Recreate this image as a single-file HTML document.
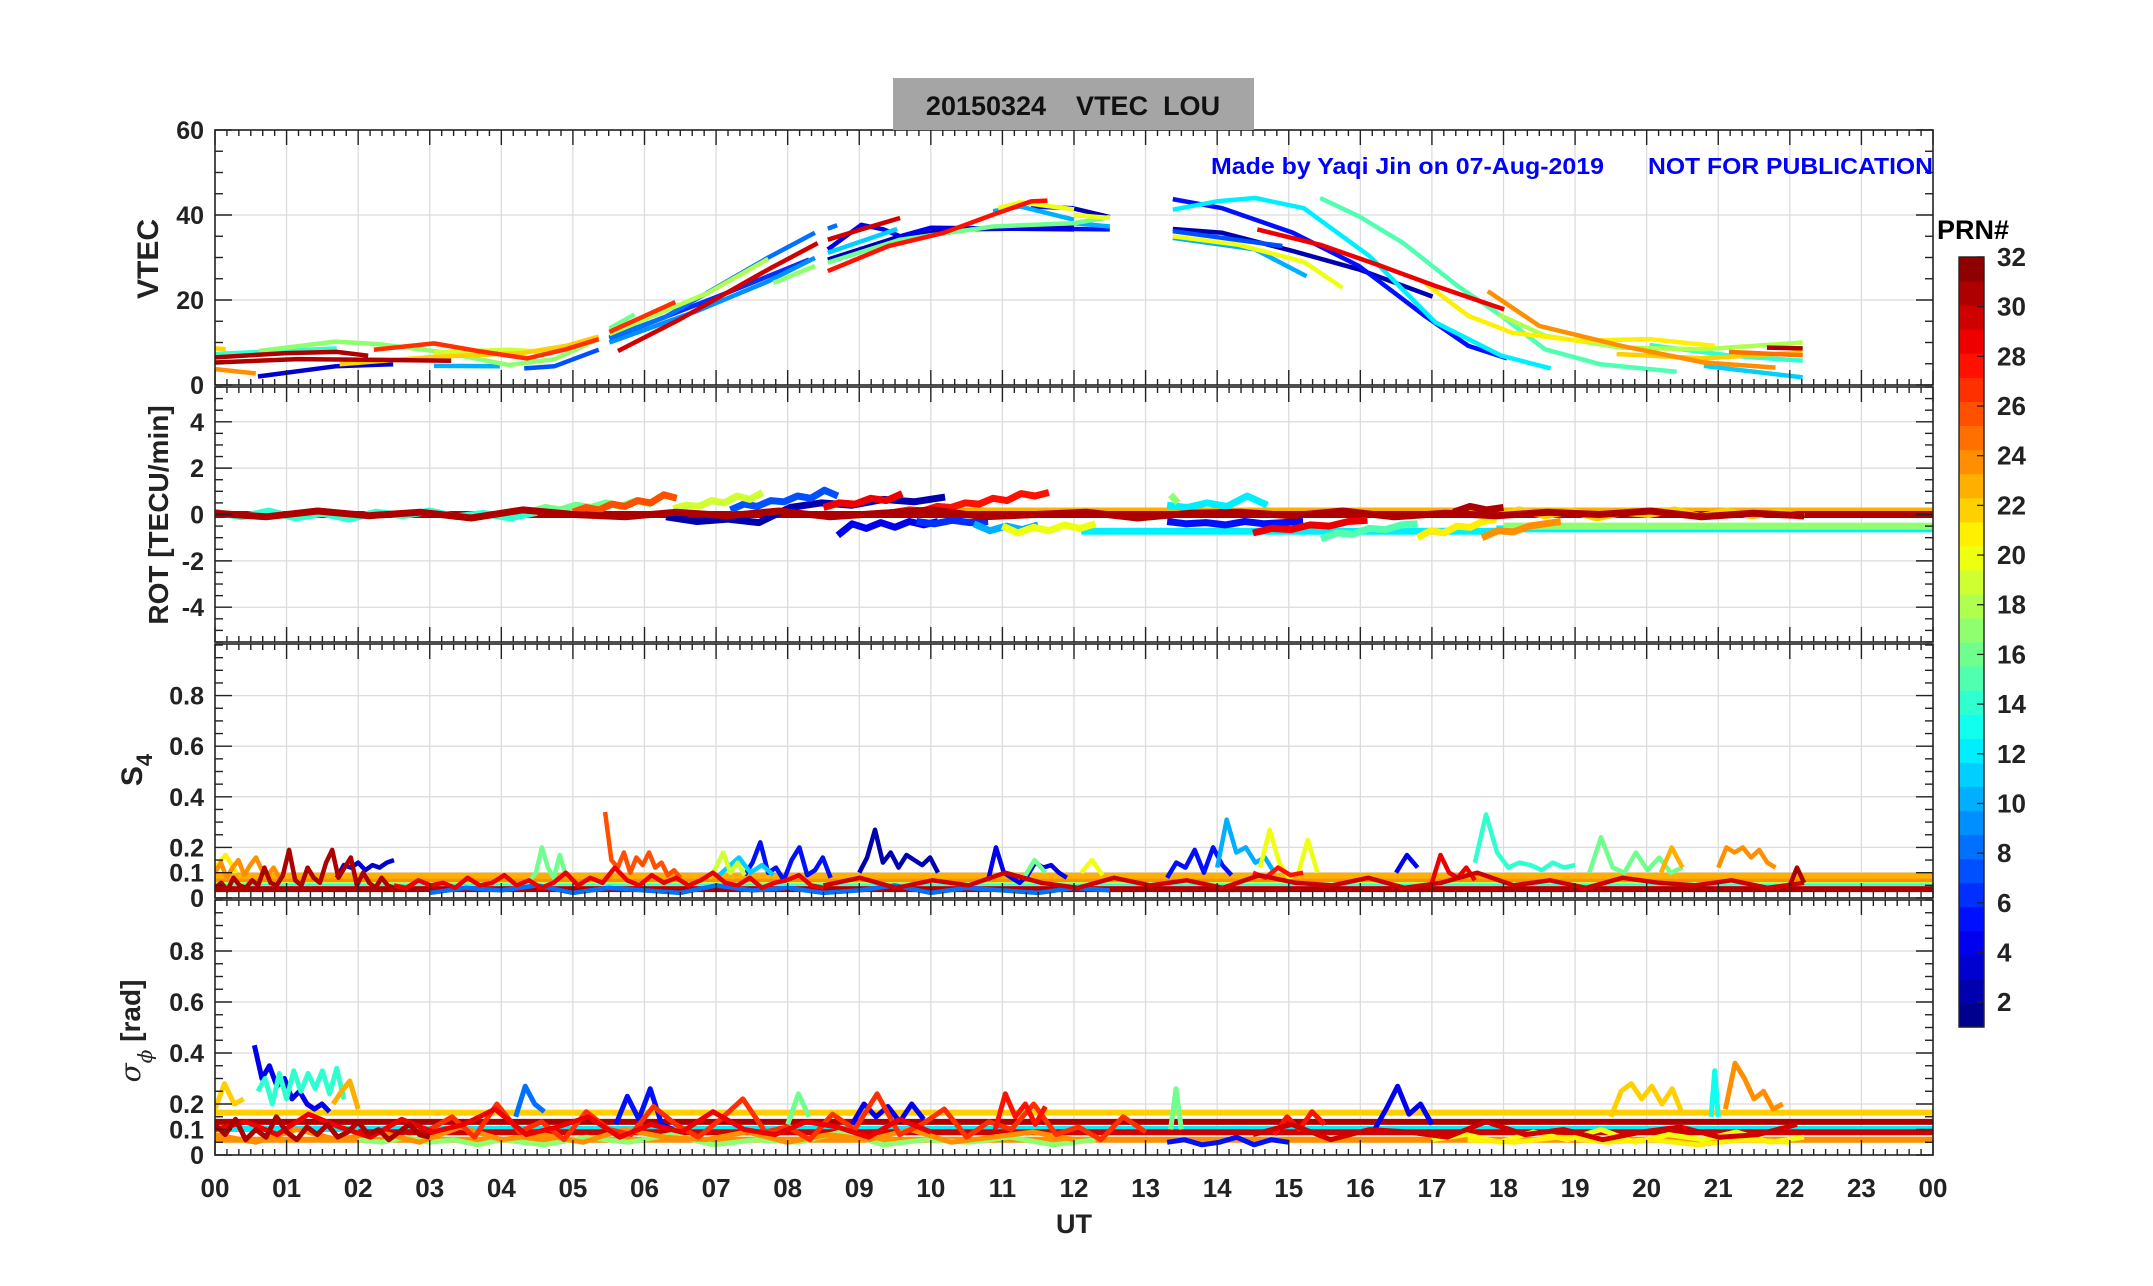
<!DOCTYPE html>
<html><head><meta charset="utf-8"><style>
html,body{margin:0;padding:0;background:#fff;}
svg{display:block;font-family:"Liberation Sans",Arial,sans-serif;}
</style></head><body>
<svg id="chart" width="2153" height="1286" viewBox="0 0 2153 1286" xmlns="http://www.w3.org/2000/svg">
<rect x="0" y="0" width="2153" height="1286" fill="#fff"/>
<g id="grids"></g>
<g id="marks"></g>
<g id="axes"></g>
<g>
<rect x="893" y="78" width="361" height="52" fill="#a5a5a5"/>
<text x="1073" y="115" text-anchor="middle" font-size="27" font-weight="bold" fill="#111" xml:space="preserve" style="white-space:pre">20150324    VTEC  LOU</text>
</g>
<text x="1211" y="174" font-size="23" font-weight="bold" fill="#0000ff" textLength="393" lengthAdjust="spacingAndGlyphs">Made by Yaqi Jin on 07-Aug-2019</text>
<text x="1648" y="174" font-size="23" font-weight="bold" fill="#0000ff" textLength="285" lengthAdjust="spacingAndGlyphs">NOT FOR PUBLICATION</text>
<text transform="translate(158,259) rotate(-90)" text-anchor="middle" font-size="30" font-weight="bold" fill="#222">VTEC</text>
<text transform="translate(168,515) rotate(-90)" text-anchor="middle" font-size="28" font-weight="bold" fill="#222">ROT [TECU/min]</text>
<text transform="translate(142,770) rotate(-90)" text-anchor="middle" font-size="30" font-weight="bold" fill="#222">S<tspan font-size="22" dy="10">4</tspan></text>
<text transform="translate(140,1031) rotate(-90)" text-anchor="middle" font-size="28" font-weight="bold" fill="#222"><tspan font-family="'DejaVu Serif',serif" font-style="italic" font-weight="normal">σ</tspan><tspan font-size="20" dy="12" font-family="'DejaVu Serif',serif" font-style="italic" font-weight="normal">ϕ</tspan><tspan dy="-12"> [rad]</tspan></text>
<text x="1074" y="1233" text-anchor="middle" font-size="27" font-weight="bold" fill="#222">UT</text>
<g id="colorbar"></g>
<text x="1973" y="239" text-anchor="middle" font-size="27" font-weight="bold" fill="#000">PRN#</text>
</svg>
<script>
// ---------- data ----------
const vtecPrn = [31,31,22,14,17,24,3,22,19,27,10,7,16,27,18,6,9,8,30,17,8,30,4,11,2,16,28,20,10,5,
  2,20,16,10,5,5,12,2,7,10,20,29,15,21,24,18,22,14,11,25,31];
const vtecT = [
 [0,1.0,1.7,2.14],[0,1.15,2.3,3.3],[0,0.15],[0,1.7],[0.61,1.68,2.3,3.2,4.1,4.75,5.36],[0,0.57],[0.6,1.68,2.49],
 [1.74,3.06,4.29,4.9,5.36],[3.06,4.13,4.6],[2.22,3.06,3.67,4.36,4.9,5.36],[3.06,3.98],[4.32,4.74,5.36],
 [5.51,5.86],[5.51,6.43],[5.51,6.89,7.73],[5.51,7.2,8.3],[5.51,6.73,7.73,8.38],[5.51,6.28,7.73,8.38],[5.63,6.5,7.73,8.42],[7.8,8.38],
 [8.56,8.69],[8.56,9.03,9.57],[8.56,9.03,9.34,9.57,10.0,12.0],[8.56,9.53],[8.56,9.57,10.33,12.0],[8.56,9.57,10.87,12.0],
 [8.56,9.41,10.18,10.87,11.4,11.63],[10.94,11.25,12.0],[10.87,11.25,12.0],[11.4,12.0],
 [12.0,12.5],[12.0,12.5],[12.0,12.5],[12.0,12.5],[12.0,12.5],
 [13.38,14.07,15.06,15.98,16.9,17.51,18.05],[13.38,13.99,14.53,15.21,16.13,17.05,17.97,18.66],[13.38,14.07,15.06,15.98,17.01],
 [13.38,14.91],[13.38,14.53,15.25],[13.38,14.3,15.21,15.75],[14.56,15.44,16.29,17.05,18.01],
 [15.44,15.98,16.6,17.36,17.97,18.58,19.35,20.42],[16.9,17.51,18.12,19.04,20.04,20.95],[17.78,18.5,19.65,20.8,21.8],
 [17.93,18.58,19.65,20.8,22.18],[19.58,20.8,22.18],[20.04,21.18,22.18],[20.8,22.18],[21.15,22.18],[21.68,22.18]];
const vtecV = [
 [6.5,7.5,7.8,6.9],[5.3,6.1,5.9,5.7],[8.6,8.4],[7.3,8.6],[8,10.2,9.6,7.7,4.7,6.1,10.8],[3.75,2.7],[2.0,4.4,4.9],
 [4.9,6.6,7.5,9.2,11.4],[7.7,8.3,7.8],[8.3,9.8,8.0,6.25,8.4,10.8],[4.5,4.4],[3.9,4.4,8.3],
 [13.3,16.6],[12.5,19.5],[12,21.7,29.7],[10.9,22,29.5],[10,17.4,24.4,29.9],[11.2,15.9,30,35.8],[8,15.5,27.2,33.4],[24,28],
 [36.8,37.6],[34.2,36.6,39.3],[31.9,37.7,36.6,35,37,36.6],[31.1,36.7],[29.5,35,36.6,37],[28.8,34.2,37.3,38.1],
 [26.8,32.7,35.8,40.1,43.2,43.4],[41.6,43,41.3],[40.9,42,38.9],[42,41.6],
 [41.5,39.5],[40,39.3],[38.1,39.5],[38.1,37.3],[36.7,36.6],
 [43.75,41.6,35.8,28,16.25,9.2,6.25],[41.25,43.2,44,41.6,30.3,14.7,6.9,3.9],[36.7,35.8,31.5,27.2,20.8],
 [36.2,32.7],[34.6,31.9,25.6],[35,33,29,22.9],[36.6,33,28,23.3,17.8],
 [44,39.7,33.4,23.3,16.25,8.4,4.9,3.1],[24,16.25,12.3,10.4,10.8,9.2],[22.1,13.9,9.2,5.3,4.1],
 [16.6,11.6,8.8,8.4,10],[7.3,6.25,7.7],[9.4,6.9,5.7],[4.5,1.8],[7.8,7],[8.8,8.6]];

const rotPrn = [2,4,5,6,7,10,12,15,16,17,19,20,21,24,26,28,29,29,31,31,14,22];
const rotT = [[6.3,10.2],[8.7,10.1],[13.3,15.2],[9.8,10.8],[7.2,8.7],[10.6,11.5],[13.3,14.7],[15.45,16.8],[4.4,6.1],[13.35,13.45],
 [6.4,7.65],[11.0,12.3],[16.8,17.9],[17.7,18.8],[5.0,6.45],[9.5,11.65],[8.5,9.6],[14.5,16.1],[0,22.2],[17.3,18.0],[0,4.5],[17.5,22.2]];
const rotV = [
 [-0.1,-0.3,-0.2,-0.35,0.3,0.5,0.4,0.65,0.55,0.75],[-0.9,-0.4,-0.6,-0.35,-0.55,-0.3,-0.45,-0.3],[-0.3,-0.4,-0.35,-0.45,-0.3,-0.4,-0.35,-0.3],
 [-0.3,-0.4,-0.25,-0.35,-0.3],[0.2,0.45,0.35,0.6,0.55,0.8,0.7,1.05,0.8],[-0.4,-0.7,-0.5,-0.65,-0.45],[0.4,0.3,0.5,0.35,0.8,0.4],
 [-1.05,-0.8,-0.85,-0.6,-0.65,-0.45,-0.4],[0.1,0.3,0.2,0.4,0.3,0.5,0.35,0.6,0.45],[0.85,0.5],
 [0.25,0.4,0.35,0.6,0.5,0.8,0.65,0.95],[-0.5,-0.8,-0.55,-0.7,-0.45,-0.6,-0.4],[-1.0,-0.7,-0.8,-0.5,-0.55,-0.3,-0.2],
 [-1.0,-0.7,-0.75,-0.5,-0.4,-0.3],[0.1,0.3,0.2,0.45,0.35,0.6,0.5,0.85,0.7],[0.1,0.2,0.15,0.35,0.3,0.5,0.45,0.7,0.6,0.9,0.8,0.95],
 [0.3,0.5,0.45,0.7,0.6,0.9],[-0.8,-0.6,-0.65,-0.45,-0.5,-0.3,-0.25],
 [0.05,-0.1,0.15,-0.05,0.1,-0.15,0.2,0.0,-0.1,0.1,-0.05,0.15,-0.1,0.05,0.2,-0.1,0.0,0.1,-0.15,0.05,0.1,-0.05,0.15,-0.1,0.05,-0.05,0.1,0.0,0.15,-0.1,0.05,-0.05],
 [0.1,0.35,0.2,0.3],
 [0.1,-0.1,0.15,-0.15,0.05,-0.2,0.1,-0.05,0.15,-0.1,0.05,-0.15,0.1],
 [0.1,-0.1,0.2,-0.05,0.15,-0.15,0.1,0.0,0.2,-0.1,0.15,-0.05,0.1,-0.1]];
const rotFlatPrn = [12,12,17,23,31];
const rotFlatT = [[12.1,17.9],[17.9,24],[18.0,24],[9.9,24],[0,24]];
const rotFlatV = [-0.72,-0.62,-0.5,0.15,0.0];

const s4Prn = [2,3,4,4,5,5,10,11,14,16,16,16,19,20,20,21,23,24,24,26,28,29,29,31,31,8,30];
const s4T = [[9.0,10.1],[1.7,2.5],[10.8,11.9],[16.5,16.8],[7.4,8.6],[13.3,14.2],[14.0,14.8],[7.0,7.8],[17.6,19.0],[4.4,4.9],[11.3,11.6],[19.2,20.5],
 [6.9,7.4],[12.1,12.4],[14.6,15.4],[0,0.3],[20.2,20.5],[0,0.9],[21.0,21.8],[5.45,6.5],[14.5,15.2],[2.5,8.5],[17.0,17.6],[0,2.5],[22.0,22.2],[3.0,12.5],[8.5,22.2]];
const s4V = [
 [0.1,0.16,0.27,0.14,0.18,0.12,0.17,0.15,0.13,0.16,0.1],[0.08,0.13,0.12,0.14,0.11,0.13,0.12,0.14,0.15],
 [0.07,0.2,0.1,0.08,0.06,0.09,0.14,0.12,0.13,0.1,0.08],[0.1,0.17,0.12],[0.09,0.14,0.22,0.1,0.12,0.07,0.15,0.2,0.09,0.11,0.16,0.08],
 [0.08,0.14,0.12,0.19,0.1,0.2,0.13,0.09],[0.12,0.31,0.18,0.2,0.14,0.16,0.1],[0.08,0.12,0.16,0.1,0.13,0.09],
 [0.14,0.33,0.18,0.12,0.14,0.13,0.11,0.14,0.12,0.13],[0.07,0.1,0.2,0.12,0.08,0.17,0.09],[0.08,0.15,0.1],[0.1,0.24,0.12,0.1,0.18,0.11,0.16,0.1,0.12],
 [0.08,0.12,0.18,0.1,0.14,0.09],[0.1,0.15,0.09],[0.12,0.27,0.14,0.08,0.1,0.23,0.1],[0.12,0.17,0.1],[0.1,0.2,0.12],
 [0.1,0.14,0.08,0.12,0.15,0.09,0.13,0.16,0.11,0.09,0.12,0.08],[0.12,0.2,0.18,0.2,0.16,0.19,0.14,0.12],
 [0.34,0.15,0.12,0.18,0.1,0.16,0.13,0.18,0.12,0.14,0.09,0.11,0.08],[0.1,0.08,0.12,0.09,0.1],
 [0.05,0.04,0.07,0.05,0.06,0.04,0.08,0.05,0.06,0.09,0.05,0.07,0.04,0.06,0.1,0.05,0.08,0.06,0.12,0.07,0.05,0.09,0.06,0.08,0.05,0.07,0.1,0.06,0.05,0.08,0.04,0.06,0.07,0.09,0.05,0.04],
 [0.06,0.17,0.1,0.08,0.12,0.07],
 [0.04,0.06,0.03,0.08,0.05,0.04,0.07,0.05,0.12,0.06,0.05,0.09,0.19,0.07,0.05,0.12,0.08,0.06,0.14,0.19,0.08,0.12,0.16,0.05,0.1,0.06,0.04,0.08,0.05,0.04],
 [0.05,0.12,0.06],
 [0.02,0.04,0.03,0.05,0.02,0.04,0.03,0.02,0.05,0.03,0.04,0.02,0.03,0.05,0.02,0.04,0.03,0.02,0.04,0.03],
 [0.05,0.08,0.04,0.07,0.05,0.1,0.06,0.04,0.08,0.05,0.07,0.04,0.09,0.06,0.05,0.08,0.04,0.06,0.1,0.05,0.07,0.04,0.08,0.06,0.05,0.07,0.04,0.06]];
const s4FlatPrn = [14,18,24,23,31];
const s4FlatT = [[0,24],[0,24],[0,24],[0,24],[0,24]];
const s4FlatV = [0.06,0.068,0.075,0.088,0.035];

const sigPrn = [4,4,4,5,5,8,13,14,16,16,17,21,22,22,23,24,27,28,28,30,31,17,24,29,20];
const sigT = [[0.55,1.6],[8.9,9.9],[16.2,17.0],[5.6,6.4],[13.3,15.0],[4.2,4.6],[20.9,21.0],[0.6,1.8],[8.0,8.3],[13.35,13.5],[2.0,4.0],
 [17.5,22.0],[0,0.4],[19.5,20.5],[1.65,2.0],[21.1,21.9],[3.0,13.0],[10.9,11.6],[14.8,15.5],[14.5,22.1],[0,3.0],[4.0,12.3],[0,12.0],[0,10.0],[17.0,22.2]];
const sigV = [
 [0.43,0.3,0.35,0.27,0.3,0.22,0.25,0.2,0.18,0.2,0.17],[0.12,0.2,0.15,0.19,0.13,0.2,0.14],[0.1,0.18,0.27,0.16,0.2,0.12],
 [0.12,0.23,0.14,0.26,0.12,0.1],[0.05,0.06,0.04,0.05,0.07,0.04,0.06,0.05],[0.15,0.27,0.2,0.17],[0.15,0.33,0.15],
 [0.25,0.3,0.2,0.32,0.22,0.33,0.25,0.32,0.26,0.33,0.24,0.34,0.22],[0.12,0.24,0.15],[0.1,0.26,0.1],[0.06,0.05,0.07,0.05,0.06,0.04,0.06],
 [0.06,0.05,0.07,0.05,0.06,0.04,0.06,0.05],[0.18,0.28,0.2,0.22],[0.15,0.25,0.28,0.22,0.27,0.2,0.26,0.16],[0.2,0.25,0.29,0.18],
 [0.18,0.36,0.3,0.22,0.25,0.18,0.2],
 [0.1,0.15,0.07,0.2,0.09,0.13,0.06,0.17,0.1,0.08,0.19,0.12,0.07,0.14,0.22,0.09,0.11,0.06,0.16,0.1,0.24,0.08,0.12,0.18,0.07,0.13,0.1,0.2,0.08,0.11,0.06,0.15,0.09],
 [0.1,0.24,0.15,0.2,0.12,0.19],[0.08,0.15,0.1,0.17,0.12],
 [0.08,0.12,0.06,0.1,0.09,0.07,0.13,0.08,0.1,0.06,0.09,0.11,0.07,0.08,0.12],
 [0.12,0.08,0.14,0.06,0.1,0.07,0.15,0.09,0.06,0.11,0.08,0.12,0.07,0.09,0.13,0.08,0.1,0.06,0.09,0.12,0.08,0.07],
 [0.06,0.04,0.07,0.05,0.08,0.04,0.06,0.05,0.09,0.04,0.06,0.05,0.07,0.04,0.06],
 [0.08,0.05,0.1,0.06,0.09,0.05,0.11,0.06,0.08,0.05,0.1,0.07,0.06,0.09,0.05,0.08,0.06,0.1,0.05,0.07,0.09,0.06],
 [0.1,0.13,0.08,0.16,0.11,0.07,0.14,0.09,0.12,0.18,0.08,0.11,0.15,0.07,0.12,0.09,0.17,0.1,0.08,0.13,0.11,0.07,0.14,0.09],
 [0.06,0.08,0.05,0.09,0.06,0.1,0.05,0.08,0.06,0.09,0.05,0.07]];
const sigFlatPrn = [12,24,22,30,31];
const sigFlatT = [[0,24],[0,24],[0,24],[2,24],[0,24]];
const sigFlatV = [0.102,0.06,0.166,0.089,0.13];

const hourLabels = ["00","01","02","03","04","05","06","07","08","09","10","11","12","13","14","15","16","17","18","19","20","21","22","23","00"];
const prnTicks = [2,4,6,8,10,12,14,16,18,20,22,24,26,28,30,32];

// ---------- layout ----------
const NS = "http://www.w3.org/2000/svg";
const X0 = 215, X1 = 1933;
const xs = t => X0 + t * (X1 - X0) / 24;
const panels = [
 {key:"vtec", top:130, bot:385, min:0, max:60, labels:[0,20,40,60], major:[0,20,40,60], minorStep:5},
 {key:"rot", top:387, bot:642, min:-5.5, max:5.5, labels:[-4,-2,0,2,4], major:[-4,-2,0,2,4], minorStep:0.5},
 {key:"s4", top:644, bot:898, min:0, max:1.004, labels:[0,0.1,0.2,0.4,0.6,0.8], major:[0,0.1,0.2,0.4,0.6,0.8], minorStep:0.05},
 {key:"sigma", top:900, bot:1155, min:0, max:1.0, labels:[0,0.1,0.2,0.4,0.6,0.8], major:[0,0.1,0.2,0.4,0.6,0.8], minorStep:0.05}
];
panels.forEach(p => { p.y = v => p.bot - (v - p.min) * (p.bot - p.top) / (p.max - p.min); });

function jet(p){
  const x = (p - 0.5) / 32;
  const c = v => Math.round(255 * Math.max(0, Math.min(1, v)));
  return `rgb(${c(1.5 - Math.abs(4*x - 3))},${c(1.5 - Math.abs(4*x - 2))},${c(1.5 - Math.abs(4*x - 1))})`;
}
function mk(tag, attrs, parent){
  const e = document.createElementNS(NS, tag);
  for (const k in attrs) e.setAttribute(k, attrs[k]);
  parent.appendChild(e);
  return e;
}
const svg = document.getElementById("chart");
const defs = mk("defs", {}, svg);
panels.forEach(p => {
  const cp = mk("clipPath", {id:"clip-" + p.key}, defs);
  mk("rect", {x:X0, y:p.top, width:X1 - X0, height:p.bot - p.top}, cp);
});

const grids = document.getElementById("grids");
const axes = document.getElementById("axes");
const marks = document.getElementById("marks");

panels.forEach((p, pi) => {
  for (let h = 1; h < 24; h++) {
    const g = mk("line", {x1:xs(h), x2:xs(h), y1:p.top, y2:p.bot, stroke:"#dcdcdc", "stroke-width":1.3}, grids);
    
    
  }
  p.major.forEach(v => {
    if (v === p.min) return;
    const g = mk("line", {x1:X0, x2:X1, y1:p.y(v), y2:p.y(v), stroke:"#dcdcdc", "stroke-width":1.3}, grids);
    
    
  });
  const box = mk("rect", {x:X0, y:p.top, width:X1 - X0, height:p.bot - p.top, fill:"none", stroke:"#222", "stroke-width":1.6}, axes);
  
  
  for (let m = 0; m <= 24 * 6; m++) {
    const x = xs(m / 6), len = (m % 6 === 0) ? 15 : 6;
    mk("line", {x1:x, x2:x, y1:p.top, y2:p.top + len, stroke:"#222", "stroke-width":1.4}, axes);
    mk("line", {x1:x, x2:x, y1:p.bot, y2:p.bot - len, stroke:"#222", "stroke-width":1.4}, axes);
  }
  const nMin = Math.round((p.max - p.min) / p.minorStep);
  for (let i = 0; i <= nMin; i++) {
    const v = p.min + i * p.minorStep;
    const y = p.y(v);
    if (y < p.top - 0.5) continue;
    const isMaj = p.major.some(m => Math.abs(m - v) < 1e-6);
    const len = isMaj ? 17 : 8;
    mk("line", {x1:X0, x2:X0 + len, y1:y, y2:y, stroke:"#222", "stroke-width":1.4}, axes);
    mk("line", {x1:X1, x2:X1 - len, y1:y, y2:y, stroke:"#222", "stroke-width":1.4}, axes);
  }
  p.labels.forEach(v => {
    const t = mk("text", {x:204, y:p.y(v) + 9, "text-anchor":"end", "font-size":25, "font-weight":"bold", fill:"#222"}, axes);
    
    
    t.textContent = String(v);
  });
});
hourLabels.forEach((s, i) => {
  const t = mk("text", {x:xs(i), y:1197, "text-anchor":"middle", "font-size":26, "font-weight":"bold", fill:"#222"}, axes);
  
  
  t.textContent = s;
});

function drawSeries(p, prns, tArr, vArr, width, name, evenTimes){
  const items = prns.map((prn, i) => ({prn, i})).sort((a, b) => a.prn - b.prn);
  const g = mk("g", {"clip-path":"url(#clip-" + p.key + ")"}, marks);
  items.forEach(({prn, i}) => {
    const vals = vArr[i];
    let pts;
    if (evenTimes) {
      const t0 = tArr[i][0], t1 = tArr[i][1], n = vals.length;
      pts = vals.map((v, k) => [xs(n > 1 ? t0 + (t1 - t0) * k / (n - 1) : t0), p.y(v)]);
    } else {
      pts = vals.map((v, k) => [xs(tArr[i][k]), p.y(v)]);
    }
    const pl = mk("polyline", {points:pts.map(q => q[0].toFixed(1) + "," + q[1].toFixed(1)).join(" "), fill:"none", stroke:jet(prn), "stroke-width":width, "stroke-linejoin":"round", "stroke-linecap":"butt"}, g);
    
    
  });
}
function drawFlat(p, prns, tArr, vArr, width, name){
  const g = mk("g", {"clip-path":"url(#clip-" + p.key + ")"}, marks);
  prns.forEach((prn, i) => {
    const l = mk("line", {x1:xs(tArr[i][0]), x2:xs(tArr[i][1]), y1:p.y(vArr[i]), y2:p.y(vArr[i]), stroke:jet(prn), "stroke-width":width}, g);
    
    
  });
}
drawSeries(panels[0], vtecPrn, vtecT, vtecV, 4.5, "vtec-arc", false);
drawFlat(panels[1], rotFlatPrn, rotFlatT, rotFlatV, 7, "rot-level");
drawSeries(panels[1], rotPrn, rotT, rotV, 7, "rot-trace", true);
drawFlat(panels[2], s4FlatPrn, s4FlatT, s4FlatV, 6, "s4-level");
drawSeries(panels[2], s4Prn, s4T, s4V, 4.5, "s4-trace", true);
drawFlat(panels[3], sigFlatPrn, sigFlatT, sigFlatV, 6, "sigma-level");
drawSeries(panels[3], sigPrn, sigT, sigV, 5, "sigma-trace", true);

const cb = document.getElementById("colorbar");
const CBX = 1959, CBW = 25, CBT = 257, CBB = 1027;
for (let k = 1; k <= 32; k++) {
  const h = (CBB - CBT) / 32;
  const r = mk("rect", {x:CBX, y:CBB - k * h, width:CBW, height:h + 0.6, fill:jet(k)}, cb);
  
  
}
mk("rect", {x:CBX, y:CBT, width:CBW, height:CBB - CBT, fill:"none", stroke:"#222", "stroke-width":1.4}, cb);
const cbY = v => CBB - (v - 1) * (CBB - CBT) / 31;
prnTicks.forEach(v => {
  mk("line", {x1:CBX + CBW - 7, x2:CBX + CBW, y1:cbY(v), y2:cbY(v), stroke:"#222", "stroke-width":1.3}, cb);
  const t = mk("text", {x:1997, y:cbY(v) + 9, "font-size":26, "font-weight":"bold", fill:"#222"}, cb);
  
  
  t.textContent = String(v);
});
</script>
</body></html>
